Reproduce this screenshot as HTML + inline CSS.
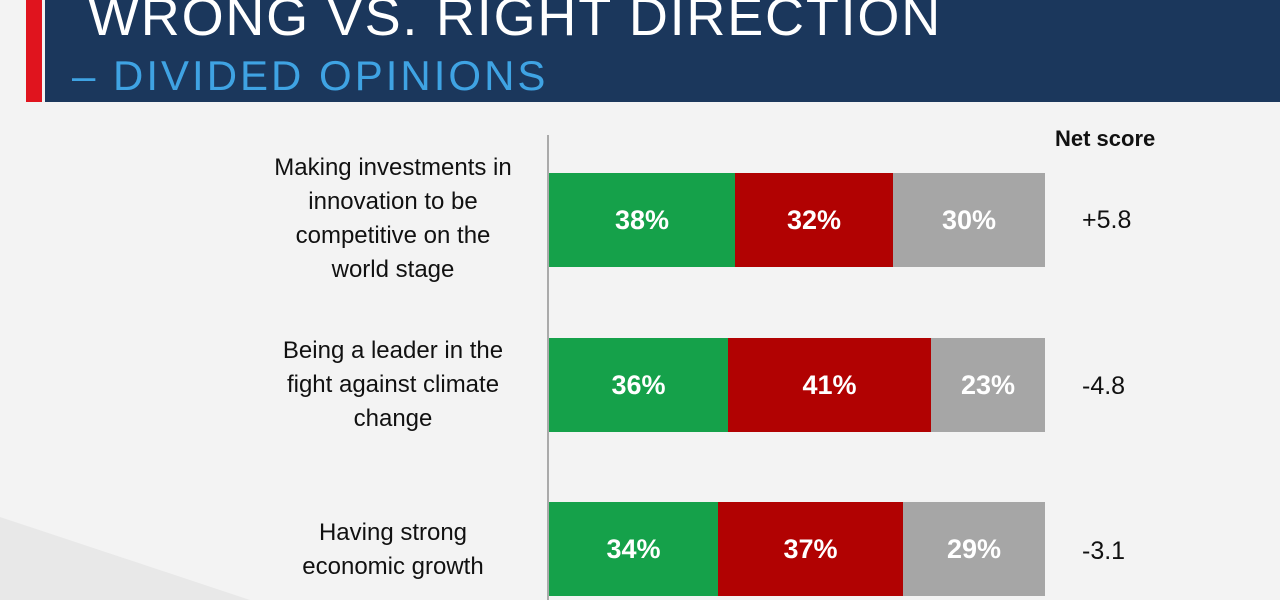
<!DOCTYPE html>
<html><head><style>
html,body{margin:0;width:1280px;height:600px;overflow:hidden}
body{background:#f3f3f3;font-family:"Liberation Sans",sans-serif;position:relative}
.wrap{position:absolute;left:0;top:0;width:1280px;height:600px;overflow:hidden}
.hdr{position:absolute;left:45px;top:0;width:1235px;height:102px;background:#1b375c}
.redbar{position:absolute;left:26px;top:0;width:16px;height:102px;background:#e0141e}
.t1{position:absolute;left:88px;top:-14px;color:#fff;font-size:54px;letter-spacing:1.8px;white-space:nowrap}
.t2{position:absolute;left:72px;top:52px;color:#3fa3e3;font-size:42px;letter-spacing:3px;white-space:nowrap}
.axis{position:absolute;left:547px;top:135px;width:2px;height:465px;background:#aaa}
.bar{position:absolute;height:94px;color:#fff;font-weight:bold;font-size:27px;display:flex;align-items:center;justify-content:center}
.g{background:#15a14a}.r{background:#b10202}.s{background:#a6a6a6}
.lab{position:absolute;width:340px;left:223px;text-align:center;font-size:24px;line-height:34px;color:#111}
.ns{position:absolute;left:1055px;top:126px;font-size:22px;font-weight:bold;color:#111}
.v{position:absolute;left:1082px;font-size:25px;color:#111}
.shade{position:absolute;left:0;top:0;width:1280px;height:600px;background:#e8e8e8;clip-path:polygon(0 517px,250px 600px,0 600px)}
</style></head><body><div class="wrap">
<div class="shade"></div>
<div class="hdr"></div><div class="redbar"></div>
<div class="t1">WRONG VS. RIGHT DIRECTION</div>
<div class="t2">– DIVIDED OPINIONS</div>
<div class="axis"></div>
<div class="ns">Net score</div>
<div class="lab" style="top:151px">Making investments in<br>innovation to be<br>competitive on the<br>world stage</div>
<div class="bar g" style="left:549px;top:173px;width:186px">38%</div>
<div class="bar r" style="left:735px;top:173px;width:158px">32%</div>
<div class="bar s" style="left:893px;top:173px;width:152px">30%</div>
<div class="v" style="top:206px">+5.8</div>
<div class="lab" style="top:334px">Being a leader in the<br>fight against climate<br>change</div>
<div class="bar g" style="left:549px;top:338px;width:179px">36%</div>
<div class="bar r" style="left:728px;top:338px;width:203px">41%</div>
<div class="bar s" style="left:931px;top:338px;width:114px">23%</div>
<div class="v" style="top:372px">-4.8</div>
<div class="lab" style="top:516px">Having strong<br>economic growth</div>
<div class="bar g" style="left:549px;top:502px;width:169px">34%</div>
<div class="bar r" style="left:718px;top:502px;width:185px">37%</div>
<div class="bar s" style="left:903px;top:502px;width:142px">29%</div>
<div class="v" style="top:537px">-3.1</div>
</div></body></html>
